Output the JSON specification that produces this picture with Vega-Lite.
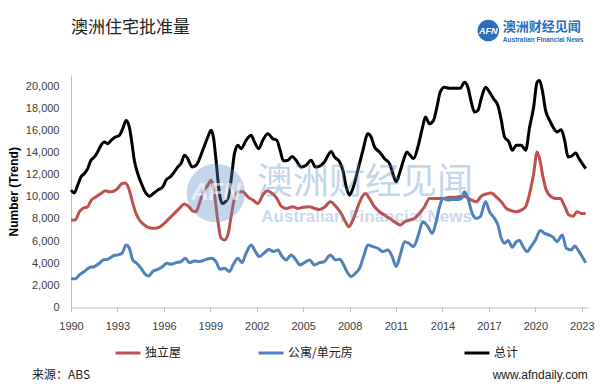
{
  "$schema": "https://vega.github.io/schema/vega-lite/v6.json",
  "width": 517,
  "height": 232.5,
  "autosize": {"type": "none"},
  "padding": {"left": 71, "top": 75, "right": 14, "bottom": 84.5},
  "background": "white",
  "title": {
    "text": "澳洲住宅批准量",
    "anchor": "start",
    "frame": "group",
    "font": "Noto Sans CJK SC",
    "fontSize": 17,
    "fontWeight": "normal",
    "color": "#222222",
    "offset": -17
  },
  "config": {
    "view": {"stroke": null},
    "font": "Liberation Sans",
    "axis": {"labelOverlap": false, "labelFlush": false},
    "legend": {
      "title": null, "orient": "none", "legendY": 264, "direction": "horizontal",
      "symbolType": "stroke", "symbolStrokeWidth": 3, "symbolSize": 625,
      "labelFont": "Noto Sans CJK SC", "labelFontSize": 12, "labelColor": "#222222", "labelOffset": 3
    }
  },
  "resolve": {"scale": {"color": "independent"}},
  "datasets": {
    "approvals": [
      {"year": 1990.00, "series": "总计", "value": 10600},
      {"year": 1990.21, "series": "总计", "value": 10350},
      {"year": 1990.43, "series": "总计", "value": 11050},
      {"year": 1990.65, "series": "总计", "value": 11800},
      {"year": 1990.86, "series": "总计", "value": 12100},
      {"year": 1991.08, "series": "总计", "value": 12550},
      {"year": 1991.29, "series": "总计", "value": 13300},
      {"year": 1991.51, "series": "总计", "value": 13600},
      {"year": 1991.72, "series": "总计", "value": 14050},
      {"year": 1991.94, "series": "总计", "value": 14650},
      {"year": 1992.15, "series": "总计", "value": 14950},
      {"year": 1992.37, "series": "总计", "value": 14800},
      {"year": 1992.59, "series": "总计", "value": 15100},
      {"year": 1992.86, "series": "总计", "value": 15400},
      {"year": 1993.12, "series": "总计", "value": 15550},
      {"year": 1993.34, "series": "总计", "value": 16150},
      {"year": 1993.56, "series": "总计", "value": 16900},
      {"year": 1993.77, "series": "总计", "value": 16300},
      {"year": 1993.94, "series": "总计", "value": 14800},
      {"year": 1994.09, "series": "总计", "value": 13300},
      {"year": 1994.31, "series": "总计", "value": 12100},
      {"year": 1994.59, "series": "总计", "value": 11050},
      {"year": 1994.85, "series": "总计", "value": 10300},
      {"year": 1995.06, "series": "总计", "value": 10050},
      {"year": 1995.32, "series": "总计", "value": 10300},
      {"year": 1995.60, "series": "总计", "value": 10600},
      {"year": 1995.93, "series": "总计", "value": 10900},
      {"year": 1996.14, "series": "总计", "value": 11500},
      {"year": 1996.46, "series": "总计", "value": 11850},
      {"year": 1996.68, "series": "总计", "value": 12250},
      {"year": 1996.90, "series": "总计", "value": 12700},
      {"year": 1997.11, "series": "总计", "value": 13000},
      {"year": 1997.33, "series": "总计", "value": 13750},
      {"year": 1997.54, "series": "总计", "value": 13450},
      {"year": 1997.82, "series": "总计", "value": 12700},
      {"year": 1998.08, "series": "总计", "value": 12850},
      {"year": 1998.51, "series": "总计", "value": 14200},
      {"year": 1998.84, "series": "总计", "value": 15400},
      {"year": 1999.05, "series": "总计", "value": 16000},
      {"year": 1999.20, "series": "总计", "value": 15400},
      {"year": 1999.37, "series": "总计", "value": 13300},
      {"year": 1999.59, "series": "总计", "value": 10300},
      {"year": 1999.76, "series": "总计", "value": 9400},
      {"year": 2000.13, "series": "总计", "value": 9850},
      {"year": 2000.34, "series": "总计", "value": 11500},
      {"year": 2000.56, "series": "总计", "value": 13900},
      {"year": 2000.78, "series": "总计", "value": 14650},
      {"year": 2000.99, "series": "总计", "value": 14350},
      {"year": 2001.31, "series": "总计", "value": 15100},
      {"year": 2001.64, "series": "总计", "value": 15550},
      {"year": 2001.85, "series": "总计", "value": 14950},
      {"year": 2002.13, "series": "总计", "value": 14350},
      {"year": 2002.39, "series": "总计", "value": 15100},
      {"year": 2002.71, "series": "总计", "value": 15700},
      {"year": 2003.04, "series": "总计", "value": 15250},
      {"year": 2003.30, "series": "总计", "value": 15100},
      {"year": 2003.51, "series": "总计", "value": 14200},
      {"year": 2003.72, "series": "总计", "value": 13250},
      {"year": 2004.01, "series": "总计", "value": 13300},
      {"year": 2004.29, "series": "总计", "value": 13650},
      {"year": 2004.54, "series": "总计", "value": 13300},
      {"year": 2004.87, "series": "总计", "value": 12700},
      {"year": 2005.19, "series": "总计", "value": 12850},
      {"year": 2005.51, "series": "总计", "value": 13300},
      {"year": 2005.79, "series": "总计", "value": 12700},
      {"year": 2006.10, "series": "总计", "value": 12800},
      {"year": 2006.37, "series": "总计", "value": 13150},
      {"year": 2006.81, "series": "总计", "value": 14100},
      {"year": 2007.02, "series": "总计", "value": 13600},
      {"year": 2007.35, "series": "总计", "value": 13150},
      {"year": 2007.56, "series": "总计", "value": 12400},
      {"year": 2007.78, "series": "总计", "value": 10900},
      {"year": 2007.99, "series": "总计", "value": 10150},
      {"year": 2008.21, "series": "总计", "value": 10750},
      {"year": 2008.53, "series": "总计", "value": 12400},
      {"year": 2008.86, "series": "总计", "value": 14200},
      {"year": 2009.18, "series": "总计", "value": 15700},
      {"year": 2009.39, "series": "总计", "value": 15400},
      {"year": 2009.61, "series": "总计", "value": 14500},
      {"year": 2009.93, "series": "总计", "value": 14050},
      {"year": 2010.25, "series": "总计", "value": 13450},
      {"year": 2010.58, "series": "总计", "value": 13000},
      {"year": 2010.79, "series": "总计", "value": 12100},
      {"year": 2011.01, "series": "总计", "value": 11350},
      {"year": 2011.22, "series": "总计", "value": 12100},
      {"year": 2011.48, "series": "总计", "value": 13300},
      {"year": 2011.70, "series": "总计", "value": 14050},
      {"year": 2011.91, "series": "总计", "value": 13750},
      {"year": 2012.13, "series": "总计", "value": 13450},
      {"year": 2012.41, "series": "总计", "value": 14500},
      {"year": 2012.69, "series": "总计", "value": 16150},
      {"year": 2012.90, "series": "总计", "value": 17200},
      {"year": 2013.16, "series": "总计", "value": 16600},
      {"year": 2013.42, "series": "总计", "value": 16900},
      {"year": 2013.64, "series": "总计", "value": 18100},
      {"year": 2013.85, "series": "总计", "value": 19450},
      {"year": 2014.13, "series": "总计", "value": 19900},
      {"year": 2014.45, "series": "总计", "value": 19800},
      {"year": 2014.78, "series": "总计", "value": 19800},
      {"year": 2015.15, "series": "总计", "value": 19800},
      {"year": 2015.42, "series": "总计", "value": 20350},
      {"year": 2015.64, "series": "总计", "value": 19900},
      {"year": 2015.86, "series": "总计", "value": 18550},
      {"year": 2016.07, "series": "总计", "value": 17650},
      {"year": 2016.29, "series": "总计", "value": 17800},
      {"year": 2016.50, "series": "总计", "value": 18850},
      {"year": 2016.78, "series": "总计", "value": 19900},
      {"year": 2017.04, "series": "总计", "value": 19450},
      {"year": 2017.30, "series": "总计", "value": 18850},
      {"year": 2017.58, "series": "总计", "value": 18250},
      {"year": 2017.80, "series": "总计", "value": 16900},
      {"year": 2018.01, "series": "总计", "value": 15400},
      {"year": 2018.29, "series": "总计", "value": 14950},
      {"year": 2018.51, "series": "总计", "value": 14200},
      {"year": 2018.77, "series": "总计", "value": 14650},
      {"year": 2019.09, "series": "总计", "value": 14650},
      {"year": 2019.37, "series": "总计", "value": 14200},
      {"year": 2019.63, "series": "总计", "value": 16300},
      {"year": 2019.89, "series": "总计", "value": 18100},
      {"year": 2020.11, "series": "总计", "value": 20350},
      {"year": 2020.27, "series": "总计", "value": 20500},
      {"year": 2020.45, "series": "总计", "value": 19600},
      {"year": 2020.66, "series": "总计", "value": 17800},
      {"year": 2020.92, "series": "总计", "value": 16900},
      {"year": 2021.14, "series": "总计", "value": 16300},
      {"year": 2021.40, "series": "总计", "value": 15850},
      {"year": 2021.67, "series": "总计", "value": 16050},
      {"year": 2021.89, "series": "总计", "value": 15100},
      {"year": 2022.11, "series": "总计", "value": 13600},
      {"year": 2022.32, "series": "总计", "value": 13650},
      {"year": 2022.60, "series": "总计", "value": 13950},
      {"year": 2022.82, "series": "总计", "value": 13450},
      {"year": 2023.03, "series": "总计", "value": 13000},
      {"year": 2023.25, "series": "总计", "value": 12550},

      {"year": 1990.00, "series": "独立屋", "value": 7900},
      {"year": 1990.28, "series": "独立屋", "value": 7900},
      {"year": 1990.54, "series": "独立屋", "value": 8650},
      {"year": 1990.76, "series": "独立屋", "value": 8950},
      {"year": 1991.08, "series": "独立屋", "value": 9100},
      {"year": 1991.29, "series": "独立屋", "value": 9650},
      {"year": 1991.62, "series": "独立屋", "value": 10000},
      {"year": 1991.94, "series": "独立屋", "value": 10300},
      {"year": 1992.22, "series": "独立屋", "value": 10550},
      {"year": 1992.48, "series": "独立屋", "value": 10450},
      {"year": 1992.74, "series": "独立屋", "value": 10500},
      {"year": 1993.02, "series": "独立屋", "value": 10750},
      {"year": 1993.30, "series": "独立屋", "value": 11200},
      {"year": 1993.51, "series": "独立屋", "value": 11250},
      {"year": 1993.73, "series": "独立屋", "value": 10750},
      {"year": 1993.94, "series": "独立屋", "value": 9700},
      {"year": 1994.16, "series": "独立屋", "value": 8650},
      {"year": 1994.42, "series": "独立屋", "value": 7900},
      {"year": 1994.74, "series": "独立屋", "value": 7450},
      {"year": 1995.06, "series": "独立屋", "value": 7200},
      {"year": 1995.38, "series": "独立屋", "value": 7150},
      {"year": 1995.71, "series": "独立屋", "value": 7250},
      {"year": 1996.03, "series": "独立屋", "value": 7600},
      {"year": 1996.35, "series": "独立屋", "value": 8050},
      {"year": 1996.68, "series": "独立屋", "value": 8500},
      {"year": 1997.00, "series": "独立屋", "value": 8950},
      {"year": 1997.33, "series": "独立屋", "value": 9350},
      {"year": 1997.61, "series": "独立屋", "value": 9100},
      {"year": 1997.87, "series": "独立屋", "value": 8700},
      {"year": 1998.08, "series": "独立屋", "value": 8650},
      {"year": 1998.29, "series": "独立屋", "value": 9400},
      {"year": 1998.51, "series": "独立屋", "value": 10300},
      {"year": 1998.84, "series": "独立屋", "value": 11050},
      {"year": 1999.05, "series": "独立屋", "value": 11500},
      {"year": 1999.26, "series": "独立屋", "value": 10300},
      {"year": 1999.48, "series": "独立屋", "value": 7900},
      {"year": 1999.70, "series": "独立屋", "value": 6250},
      {"year": 1999.91, "series": "独立屋", "value": 6100},
      {"year": 2000.13, "series": "独立屋", "value": 6550},
      {"year": 2000.34, "series": "独立屋", "value": 8200},
      {"year": 2000.56, "series": "独立屋", "value": 9850},
      {"year": 2000.78, "series": "独立屋", "value": 10450},
      {"year": 2001.10, "series": "独立屋", "value": 10450},
      {"year": 2001.42, "series": "独立屋", "value": 10000},
      {"year": 2001.75, "series": "独立屋", "value": 9700},
      {"year": 2002.07, "series": "独立屋", "value": 9400},
      {"year": 2002.39, "series": "独立屋", "value": 10150},
      {"year": 2002.67, "series": "独立屋", "value": 10550},
      {"year": 2003.00, "series": "独立屋", "value": 10300},
      {"year": 2003.30, "series": "独立屋", "value": 9850},
      {"year": 2003.58, "series": "独立屋", "value": 9150},
      {"year": 2003.90, "series": "独立屋", "value": 8950},
      {"year": 2004.33, "series": "独立屋", "value": 9100},
      {"year": 2004.66, "series": "独立屋", "value": 8950},
      {"year": 2004.98, "series": "独立屋", "value": 9050},
      {"year": 2005.41, "series": "独立屋", "value": 9100},
      {"year": 2005.73, "series": "独立屋", "value": 8950},
      {"year": 2006.05, "series": "独立屋", "value": 8850},
      {"year": 2006.37, "series": "独立屋", "value": 9050},
      {"year": 2006.75, "series": "独立屋", "value": 9550},
      {"year": 2007.13, "series": "独立屋", "value": 9100},
      {"year": 2007.45, "series": "独立屋", "value": 8500},
      {"year": 2007.73, "series": "独立屋", "value": 7750},
      {"year": 2007.95, "series": "独立屋", "value": 7300},
      {"year": 2008.21, "series": "独立屋", "value": 7900},
      {"year": 2008.53, "series": "独立屋", "value": 9100},
      {"year": 2008.81, "series": "独立屋", "value": 10000},
      {"year": 2009.02, "series": "独立屋", "value": 10300},
      {"year": 2009.28, "series": "独立屋", "value": 9850},
      {"year": 2009.61, "series": "独立屋", "value": 9100},
      {"year": 2009.93, "series": "独立屋", "value": 8650},
      {"year": 2010.25, "series": "独立屋", "value": 8350},
      {"year": 2010.58, "series": "独立屋", "value": 8050},
      {"year": 2010.90, "series": "独立屋", "value": 7750},
      {"year": 2011.27, "series": "独立屋", "value": 7450},
      {"year": 2011.55, "series": "独立屋", "value": 7750},
      {"year": 2011.87, "series": "独立屋", "value": 7900},
      {"year": 2012.19, "series": "独立屋", "value": 8050},
      {"year": 2012.51, "series": "独立屋", "value": 8500},
      {"year": 2012.84, "series": "独立屋", "value": 9100},
      {"year": 2013.16, "series": "独立屋", "value": 9850},
      {"year": 2013.59, "series": "独立屋", "value": 9850},
      {"year": 2014.02, "series": "独立屋", "value": 9850},
      {"year": 2014.45, "series": "独立屋", "value": 9950},
      {"year": 2014.89, "series": "独立屋", "value": 9950},
      {"year": 2015.21, "series": "独立屋", "value": 10050},
      {"year": 2015.53, "series": "独立屋", "value": 10000},
      {"year": 2015.86, "series": "独立屋", "value": 9700},
      {"year": 2016.18, "series": "独立屋", "value": 9550},
      {"year": 2016.50, "series": "独立屋", "value": 10050},
      {"year": 2016.83, "series": "独立屋", "value": 10250},
      {"year": 2017.15, "series": "独立屋", "value": 10350},
      {"year": 2017.47, "series": "独立屋", "value": 10000},
      {"year": 2017.80, "series": "独立屋", "value": 9550},
      {"year": 2018.12, "series": "独立屋", "value": 8950},
      {"year": 2018.44, "series": "独立屋", "value": 8750},
      {"year": 2018.77, "series": "独立屋", "value": 8650},
      {"year": 2019.09, "series": "独立屋", "value": 8800},
      {"year": 2019.37, "series": "独立屋", "value": 9100},
      {"year": 2019.63, "series": "独立屋", "value": 10300},
      {"year": 2019.89, "series": "独立屋", "value": 12100},
      {"year": 2020.11, "series": "独立屋", "value": 14050},
      {"year": 2020.27, "series": "独立屋", "value": 13450},
      {"year": 2020.49, "series": "独立屋", "value": 11800},
      {"year": 2020.71, "series": "独立屋", "value": 10600},
      {"year": 2021.03, "series": "独立屋", "value": 10000},
      {"year": 2021.31, "series": "独立屋", "value": 9850},
      {"year": 2021.61, "series": "独立屋", "value": 9850},
      {"year": 2021.89, "series": "独立屋", "value": 9150},
      {"year": 2022.17, "series": "独立屋", "value": 8350},
      {"year": 2022.43, "series": "独立屋", "value": 8250},
      {"year": 2022.69, "series": "独立屋", "value": 8650},
      {"year": 2022.97, "series": "独立屋", "value": 8500},
      {"year": 2023.25, "series": "独立屋", "value": 8500},

      {"year": 1990.00, "series": "公寓/单元房", "value": 2600},
      {"year": 1990.28, "series": "公寓/单元房", "value": 2600},
      {"year": 1990.54, "series": "公寓/单元房", "value": 2950},
      {"year": 1990.86, "series": "公寓/单元房", "value": 3250},
      {"year": 1991.18, "series": "公寓/单元房", "value": 3600},
      {"year": 1991.51, "series": "公寓/单元房", "value": 3700},
      {"year": 1991.83, "series": "公寓/单元房", "value": 4000},
      {"year": 1992.09, "series": "公寓/单元房", "value": 4300},
      {"year": 1992.37, "series": "公寓/单元房", "value": 4350},
      {"year": 1992.70, "series": "公寓/单元房", "value": 4650},
      {"year": 1993.02, "series": "公寓/单元房", "value": 4750},
      {"year": 1993.30, "series": "公寓/单元房", "value": 4900},
      {"year": 1993.56, "series": "公寓/单元房", "value": 5650},
      {"year": 1993.77, "series": "公寓/单元房", "value": 5350},
      {"year": 1993.99, "series": "公寓/单元房", "value": 4300},
      {"year": 1994.25, "series": "公寓/单元房", "value": 4000},
      {"year": 1994.52, "series": "公寓/单元房", "value": 3550},
      {"year": 1994.80, "series": "公寓/单元房", "value": 3000},
      {"year": 1995.02, "series": "公寓/单元房", "value": 2850},
      {"year": 1995.28, "series": "公寓/单元房", "value": 3250},
      {"year": 1995.60, "series": "公寓/单元房", "value": 3450},
      {"year": 1995.93, "series": "公寓/单元房", "value": 3700},
      {"year": 1996.19, "series": "公寓/单元房", "value": 4000},
      {"year": 1996.46, "series": "公寓/单元房", "value": 3900},
      {"year": 1996.79, "series": "公寓/单元房", "value": 4050},
      {"year": 1997.11, "series": "公寓/单元房", "value": 4150},
      {"year": 1997.39, "series": "公寓/单元房", "value": 4450},
      {"year": 1997.65, "series": "公寓/单元房", "value": 4050},
      {"year": 1997.97, "series": "公寓/单元房", "value": 4200},
      {"year": 1998.29, "series": "公寓/单元房", "value": 4150},
      {"year": 1998.73, "series": "公寓/单元房", "value": 4350},
      {"year": 1999.05, "series": "公寓/单元房", "value": 4450},
      {"year": 1999.37, "series": "公寓/单元房", "value": 4150},
      {"year": 1999.63, "series": "公寓/单元房", "value": 3450},
      {"year": 1999.91, "series": "公寓/单元房", "value": 3550},
      {"year": 2000.23, "series": "公寓/单元房", "value": 3250},
      {"year": 2000.49, "series": "公寓/单元房", "value": 3900},
      {"year": 2000.78, "series": "公寓/单元房", "value": 4450},
      {"year": 2001.05, "series": "公寓/单元房", "value": 4050},
      {"year": 2001.31, "series": "公寓/单元房", "value": 4900},
      {"year": 2001.64, "series": "公寓/单元房", "value": 5650},
      {"year": 2001.91, "series": "公寓/单元房", "value": 5050},
      {"year": 2002.17, "series": "公寓/单元房", "value": 4600},
      {"year": 2002.50, "series": "公寓/单元房", "value": 4950},
      {"year": 2002.78, "series": "公寓/单元房", "value": 5250},
      {"year": 2003.08, "series": "公寓/单元房", "value": 5050},
      {"year": 2003.36, "series": "公寓/单元房", "value": 5200},
      {"year": 2003.64, "series": "公寓/单元房", "value": 4600},
      {"year": 2003.90, "series": "公寓/单元房", "value": 4300},
      {"year": 2004.22, "series": "公寓/单元房", "value": 4750},
      {"year": 2004.50, "series": "公寓/单元房", "value": 4350},
      {"year": 2004.80, "series": "公寓/单元房", "value": 3850},
      {"year": 2005.08, "series": "公寓/单元房", "value": 4050},
      {"year": 2005.41, "series": "公寓/单元房", "value": 4300},
      {"year": 2005.73, "series": "公寓/单元房", "value": 3850},
      {"year": 2006.05, "series": "公寓/单元房", "value": 4050},
      {"year": 2006.37, "series": "公寓/单元房", "value": 4150},
      {"year": 2006.75, "series": "公寓/单元房", "value": 4750},
      {"year": 2007.09, "series": "公寓/单元房", "value": 4300},
      {"year": 2007.35, "series": "公寓/单元房", "value": 4350},
      {"year": 2007.56, "series": "公寓/单元房", "value": 4000},
      {"year": 2007.82, "series": "公寓/单元房", "value": 3250},
      {"year": 2008.10, "series": "公寓/单元房", "value": 2800},
      {"year": 2008.38, "series": "公寓/单元房", "value": 3100},
      {"year": 2008.64, "series": "公寓/单元房", "value": 3550},
      {"year": 2008.90, "series": "公寓/单元房", "value": 4600},
      {"year": 2009.18, "series": "公寓/单元房", "value": 5650},
      {"year": 2009.50, "series": "公寓/单元房", "value": 5500},
      {"year": 2009.83, "series": "公寓/单元房", "value": 5350},
      {"year": 2010.15, "series": "公寓/单元房", "value": 5050},
      {"year": 2010.47, "series": "公寓/单元房", "value": 5200},
      {"year": 2010.75, "series": "公寓/单元房", "value": 4600},
      {"year": 2011.01, "series": "公寓/单元房", "value": 3700},
      {"year": 2011.27, "series": "公寓/单元房", "value": 4750},
      {"year": 2011.55, "series": "公寓/单元房", "value": 5950},
      {"year": 2011.83, "series": "公寓/单元房", "value": 5800},
      {"year": 2012.13, "series": "公寓/单元房", "value": 5500},
      {"year": 2012.41, "series": "公寓/单元房", "value": 6400},
      {"year": 2012.73, "series": "公寓/单元房", "value": 7750},
      {"year": 2013.06, "series": "公寓/单元房", "value": 7300},
      {"year": 2013.34, "series": "公寓/单元房", "value": 6700},
      {"year": 2013.59, "series": "公寓/单元房", "value": 7750},
      {"year": 2013.81, "series": "公寓/单元房", "value": 9100},
      {"year": 2014.02, "series": "公寓/单元房", "value": 9850},
      {"year": 2014.35, "series": "公寓/单元房", "value": 9700},
      {"year": 2014.67, "series": "公寓/单元房", "value": 9750},
      {"year": 2014.99, "series": "公寓/单元房", "value": 9750},
      {"year": 2015.21, "series": "公寓/单元房", "value": 9850},
      {"year": 2015.42, "series": "公寓/单元房", "value": 10450},
      {"year": 2015.64, "series": "公寓/单元房", "value": 9850},
      {"year": 2015.92, "series": "公寓/单元房", "value": 8500},
      {"year": 2016.18, "series": "公寓/单元房", "value": 8050},
      {"year": 2016.44, "series": "公寓/单元房", "value": 8200},
      {"year": 2016.78, "series": "公寓/单元房", "value": 9550},
      {"year": 2017.04, "series": "公寓/单元房", "value": 8650},
      {"year": 2017.36, "series": "公寓/单元房", "value": 8050},
      {"year": 2017.58, "series": "公寓/单元房", "value": 7450},
      {"year": 2017.80, "series": "公寓/单元房", "value": 6250},
      {"year": 2018.01, "series": "公寓/单元房", "value": 5800},
      {"year": 2018.23, "series": "公寓/单元房", "value": 6050},
      {"year": 2018.51, "series": "公寓/单元房", "value": 5450},
      {"year": 2018.77, "series": "公寓/单元房", "value": 5950},
      {"year": 2018.98, "series": "公寓/单元房", "value": 6050},
      {"year": 2019.20, "series": "公寓/单元房", "value": 5500},
      {"year": 2019.46, "series": "公寓/单元房", "value": 5050},
      {"year": 2019.74, "series": "公寓/单元房", "value": 5550},
      {"year": 2020.02, "series": "公寓/单元房", "value": 6150},
      {"year": 2020.32, "series": "公寓/单元房", "value": 6950},
      {"year": 2020.60, "series": "公寓/单元房", "value": 6700},
      {"year": 2020.88, "series": "公寓/单元房", "value": 6550},
      {"year": 2021.14, "series": "公寓/单元房", "value": 6350},
      {"year": 2021.40, "series": "公寓/单元房", "value": 5950},
      {"year": 2021.74, "series": "公寓/单元房", "value": 6550},
      {"year": 2022.00, "series": "公寓/单元房", "value": 5350},
      {"year": 2022.32, "series": "公寓/单元房", "value": 5200},
      {"year": 2022.54, "series": "公寓/单元房", "value": 5550},
      {"year": 2022.82, "series": "公寓/单元房", "value": 5050},
      {"year": 2023.25, "series": "公寓/单元房", "value": 4050}
    ]
  },
  "layer": [
    {
      "data": {"name": "approvals"},
      "transform": [{"filter": "datum.series == '独立屋'"}],
      "mark": {"type": "line", "strokeWidth": 3, "interpolate": "monotone"},
      "encoding": {
        "x": {
          "field": "year", "type": "quantitative",
          "scale": {"domain": [1990, 2023.4], "nice": false, "zero": false},
          "axis": {
            "title": null, "values": [1990, 1993, 1996, 1999, 2002, 2005, 2008, 2011, 2014, 2017, 2020, 2023],
            "tickCount": 20,
            "format": "d", "grid": false, "labelFlush": false, "labelOverlap": false,
            "labelFont": "Liberation Sans", "labelFontSize": 11,
            "labelColor": "#404040", "domainColor": "#bfbfbf", "tickColor": "#bfbfbf",
            "tickSize": 4, "labelPadding": 9
          }
        },
        "y": {
          "field": "value", "type": "quantitative",
          "scale": {"domain": [0, 21000], "nice": false},
          "axis": {
            "title": "Number (Trend)", "values": [0, 2000, 4000, 6000, 8000, 10000, 12000, 14000, 16000, 18000, 20000],
            "tickCount": 20,
            "format": ",d", "grid": false, "ticks": false, "labelFlush": false, "labelOverlap": false,
            "labelFont": "Liberation Sans", "labelFontSize": 11,
            "labelColor": "#404040", "domainColor": "#bfbfbf", "labelPadding": 12,
            "titleFont": "Liberation Sans", "titleFontSize": 12, "titleFontWeight": "bold",
            "titleColor": "#000000", "titlePadding": 5
          }
        },
        "color": {
          "field": "series", "type": "nominal",
          "scale": {"domain": ["独立屋"], "range": ["#c0504d"]},
          "legend": {"legendX": 43}
        }
      }
    },
    {
      "data": {"name": "approvals"},
      "transform": [{"filter": "datum.series == '公寓/单元房'"}],
      "mark": {"type": "line", "strokeWidth": 3, "interpolate": "monotone"},
      "encoding": {
        "x": {"field": "year", "type": "quantitative"},
        "y": {"field": "value", "type": "quantitative"},
        "color": {
          "field": "series", "type": "nominal",
          "scale": {"domain": ["公寓/单元房"], "range": ["#4f81bd"]},
          "legend": {"legendX": 186}
        }
      }
    },
    {
      "data": {"name": "approvals"},
      "transform": [{"filter": "datum.series == '总计'"}],
      "mark": {"type": "line", "strokeWidth": 3, "interpolate": "monotone"},
      "encoding": {
        "x": {"field": "year", "type": "quantitative"},
        "y": {"field": "value", "type": "quantitative"},
        "color": {
          "field": "series", "type": "nominal",
          "scale": {"domain": ["总计"], "range": ["#000000"]},
          "legend": {"legendX": 392}
        }
      }
    },
    {
      "data": {"values": [{}]},
      "mark": {"type": "point", "filled": true, "color": "#5987c3", "opacity": 0.35, "size": 3400},
      "encoding": {"x": {"datum": 1999.36}, "y": {"datum": 10340}}
    },
    {
      "data": {"values": [{}]},
      "mark": {"type": "text", "text": "AFN", "font": "Liberation Sans", "fontSize": 24, "fontWeight": "bold", "fontStyle": "italic", "color": "#ffffff", "opacity": 0.6},
      "encoding": {"x": {"datum": 1999.36}, "y": {"datum": 10340}}
    },
    {
      "data": {"values": [{}]},
      "mark": {"type": "text", "text": "澳洲财经见闻", "font": "Noto Sans CJK SC", "fontSize": 36, "color": "#5987c3", "opacity": 0.35},
      "encoding": {"x": {"datum": 2009.0}, "y": {"datum": 11240}}
    },
    {
      "data": {"values": [{}]},
      "mark": {"type": "text", "text": "Australian Financial News", "font": "Liberation Sans", "fontSize": 17, "fontWeight": "bold", "color": "#5987c3", "opacity": 0.3},
      "encoding": {"x": {"datum": 2009.1}, "y": {"datum": 8170}}
    },
    {
      "data": {"values": [{}]},
      "mark": {"type": "point", "filled": true, "color": "#2a6fb8", "opacity": 1, "size": 460},
      "encoding": {"x": {"datum": 2016.96}, "y": {"datum": 25011}}
    },
    {
      "data": {"values": [{}]},
      "mark": {"type": "text", "text": "AFN", "font": "Liberation Sans", "fontSize": 9, "fontWeight": "bold", "fontStyle": "italic", "color": "#ffffff"},
      "encoding": {"x": {"datum": 2016.96}, "y": {"datum": 25011}}
    },
    {
      "data": {"values": [{}]},
      "mark": {"type": "text", "text": "澳洲财经见闻", "font": "Noto Sans CJK SC", "fontSize": 13, "fontWeight": "bold", "color": "#2a6fb8", "align": "left", "baseline": "middle"},
      "encoding": {"x": {"datum": 2017.9}, "y": {"datum": 25330}}
    },
    {
      "data": {"values": [{}]},
      "mark": {"type": "text", "text": "Australian Financial News", "font": "Liberation Sans", "fontSize": 6.5, "fontWeight": "bold", "color": "#2a6fb8", "align": "left", "baseline": "middle"},
      "encoding": {"x": {"datum": 2017.9}, "y": {"datum": 24153}}
    },
    {
      "data": {"values": [{}]},
      "mark": {"type": "text", "text": "来源：ABS", "font": "Noto Sans CJK SC", "fontSize": 12, "color": "#222222", "align": "left", "baseline": "middle"},
      "encoding": {"x": {"datum": 1987.48}, "y": {"datum": -6095}}
    },
    {
      "data": {"values": [{}]},
      "mark": {"type": "text", "text": "www.afndaily.com", "font": "Liberation Sans", "fontSize": 12, "color": "#222222", "align": "right", "baseline": "middle"},
      "encoding": {"x": {"datum": 2023.39}, "y": {"datum": -6095}}
    }
  ]
}
